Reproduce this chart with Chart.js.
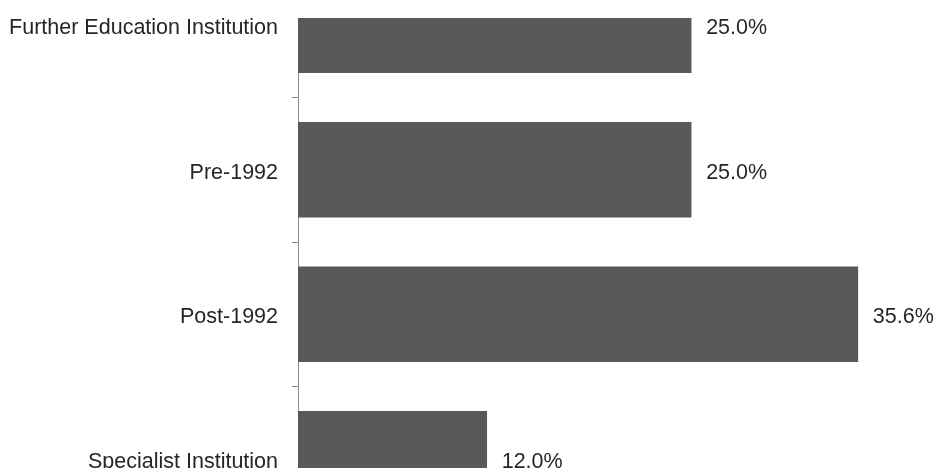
<!DOCTYPE html>
<html>
<head>
<meta charset="utf-8">
<script src="https://cdn.jsdelivr.net/npm/chart.js@4.4.0/dist/chart.umd.min.js"></script>
<style>
  html, body { margin: 0; padding: 0; background: #fff; }
  #wrap { position: relative; width: 934px; height: 468px; overflow: hidden; }
  #chart { position: absolute; left: 0; top: -74px; }
</style>
</head>
<body>
<div id="wrap">
  <canvas id="chart" width="934" height="632"></canvas>
</div>
<script>
// categories and values (percent)
const categories = ['Further Education Institution', 'Pre-1992', 'Post-1992', 'Specialist Institution'];
const shares = [25.0, 25.0, 35.6, 12.0];

const FONT = "'Liberation Sans', Arial, sans-serif";
const CANVAS_SHIFT = 74;   // canvas sits this far above the page
const CROP_TOP = 18;       // source plot is cut off above this page row

// white band over the top of the plot (the source is cropped there), then value labels
const labelPlugin = {
    id: 'valueLabels',
    afterDraw(chart) {
        const ctx = chart.ctx;
        const area = chart.chartArea;
        ctx.save();
        ctx.fillStyle = '#ffffff';
        ctx.fillRect(area.left - 10, 0, chart.width, CANVAS_SHIFT + CROP_TOP);
        ctx.fillStyle = '#262626';
        ctx.font = '21.5px ' + FONT;
        ctx.textAlign = 'left';
        ctx.textBaseline = 'middle';
        chart.getDatasetMeta(0).data.forEach((bar, i) => {
            ctx.fillText(shares[i].toFixed(1) + '%', bar.x + 15, bar.y + 3);
        });
        ctx.restore();
    }
};

new Chart(document.getElementById('chart'), {
    type: 'bar',
    data: {
        labels: categories,
        datasets: [{
            data: shares,
            backgroundColor: '#595959',
            borderWidth: 0,
            barThickness: 95
        }]
    },
    options: {
        indexAxis: 'y',
        responsive: false,
        animation: false,
        devicePixelRatio: 1,
        layout: { padding: { top: 0, bottom: 0, left: 0, right: 7 } },
        plugins: {
            legend: { display: false },
            tooltip: { enabled: false }
        },
        scales: {
            x: {
                display: false,
                min: 0,
                max: 40
            },
            y: {
                afterFit(scale) { scale.width = 298; },
                grid: {
                    offset: true,
                    drawOnChartArea: false,
                    drawTicks: true,
                    tickLength: 6,
                    color: '#8a8a8a'
                },
                border: { display: true, color: '#8a8a8a', width: 1 },
                ticks: {
                    color: '#262626',
                    padding: 14,
                    labelOffset: 3,
                    font: { family: FONT, size: 21.5 }
                }
            }
        }
    },
    plugins: [labelPlugin]
});
</script>
</body>
</html>
